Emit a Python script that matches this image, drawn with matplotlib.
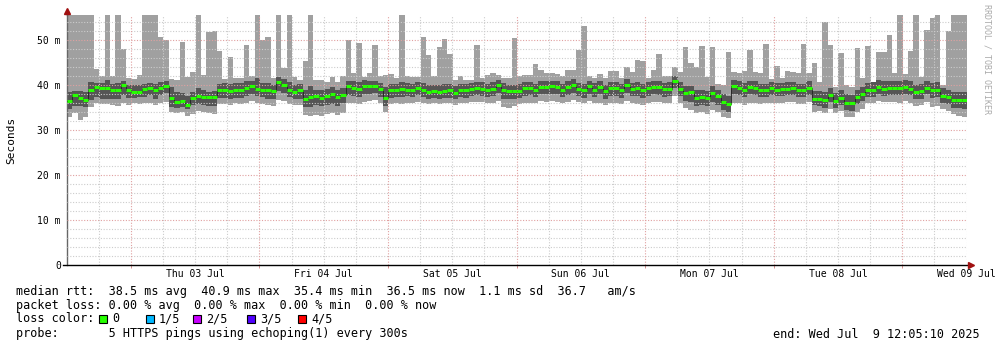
"""Weekly smokeping style latency graph."""
from datetime import datetime, timedelta

import matplotlib
matplotlib.use("Agg")
import matplotlib.pyplot as plt
import matplotlib.dates as mdates
from matplotlib.patches import Rectangle

START = datetime(2025, 7, 2, 12, 5, 10)
N_BINS = 168  # one bin per hour

# ---- data (ms) -------------------------------------------------------
median = [
    36.5, 37.8, 37.1, 36.7, 39.0, 39.6, 39.3, 39.3, 38.8, 38.9, 39.9, 38.9, 38.4, 38.4,
    39.1, 39.3, 39.0, 39.3, 39.8, 37.1, 36.3, 36.5, 35.5, 37.2, 37.6, 37.3, 37.3, 37.4,
    38.8, 38.8, 38.7, 38.8, 38.8, 39.3, 39.7, 39.1, 39.0, 38.8, 38.6, 40.6, 40.0, 39.0,
    38.5, 38.8, 37.0, 37.4, 37.5, 37.2, 37.6, 38.0, 37.3, 37.8, 39.8, 39.4, 39.2, 39.8,
    39.8, 39.8, 39.1, 37.1, 38.9, 38.9, 39.1, 39.0, 38.8, 39.4, 39.0, 38.5, 38.7, 38.4,
    38.7, 38.8, 38.2, 38.8, 38.8, 39.2, 39.3, 39.2, 38.9, 39.2, 39.9, 39.0, 38.7, 38.7,
    38.7, 39.3, 39.3, 38.9, 39.6, 39.6, 39.7, 39.6, 38.9, 39.6, 40.0, 39.1, 38.9, 39.7,
    39.0, 39.6, 38.6, 39.3, 39.3, 38.9, 40.0, 39.1, 39.3, 38.9, 39.3, 39.6, 39.5, 39.1,
    39.2, 41.0, 39.2, 38.2, 38.4, 37.1, 37.3, 37.2, 38.2, 37.6, 36.3, 35.8, 39.7, 39.3,
    38.9, 39.6, 39.3, 38.9, 38.9, 39.3, 39.0, 39.1, 39.2, 39.3, 38.9, 38.8, 39.4, 37.0,
    37.0, 36.7, 37.8, 36.5, 37.2, 36.1, 35.9, 37.3, 37.9, 38.9, 38.9, 39.6, 39.2, 39.3,
    39.3, 39.3, 39.6, 39.2, 38.4, 38.6, 39.4, 38.8, 39.0, 37.6, 37.3, 36.7, 36.7, 36.7,
]

# slowest ping per hour (values above the graph top get clipped)
smoke_hi = [
    62.0, 62.0, 62.0, 62.0, 62.0, 43.6, 42.0, 62.0, 42.0, 62.0, 48.0, 41.5, 41.4, 42.2,
    62.0, 62.0, 62.0, 50.7, 50.0, 41.3, 41.2, 49.6, 41.8, 42.9, 62.0, 42.2, 51.8, 52.0,
    47.6, 41.3, 46.3, 41.5, 41.5, 48.9, 42.0, 62.0, 49.9, 50.7, 41.5, 62.0, 43.7, 62.0,
    41.8, 41.1, 45.4, 62.0, 41.1, 41.2, 40.7, 41.8, 40.7, 42.1, 49.9, 42.7, 49.4, 41.8,
    42.6, 48.9, 42.0, 42.2, 42.4, 41.5, 62.0, 42.0, 41.8, 41.8, 50.6, 46.7, 42.0, 48.4,
    50.2, 46.9, 41.1, 42.0, 41.1, 41.1, 48.9, 41.5, 42.2, 42.6, 42.2, 41.5, 41.5, 50.4,
    42.0, 42.2, 42.2, 44.7, 43.3, 42.7, 42.7, 42.4, 42.0, 43.3, 43.3, 47.8, 53.1, 42.0,
    41.5, 42.4, 41.5, 43.1, 43.1, 41.5, 43.9, 42.9, 45.6, 45.3, 41.5, 43.3, 47.0, 42.1,
    42.0, 43.9, 42.9, 48.5, 45.0, 44.1, 48.7, 41.8, 48.5, 40.2, 40.0, 47.4, 43.0, 42.6,
    43.1, 47.8, 43.0, 42.6, 49.1, 41.3, 44.2, 41.5, 43.1, 42.8, 42.6, 49.1, 42.7, 45.0,
    40.7, 53.9, 48.9, 39.5, 47.2, 40.0, 39.6, 48.3, 41.5, 48.7, 40.4, 47.4, 47.4, 51.1,
    42.7, 62.0, 42.4, 47.6, 62.0, 41.8, 52.2, 54.8, 62.0, 40.0, 51.9, 62.0, 62.0, 62.0,
]

# inner pings (2nd and 4th)
dark_hi = [
    38.4, 38.6, 38.7, 38.4, 40.7, 40.5, 40.5, 41.2, 40.3, 40.4, 40.8, 40.0, 39.9, 40.1,
    40.3, 40.5, 40.2, 40.6, 40.9, 39.5, 38.5, 38.3, 37.5, 38.5, 39.3, 38.8, 38.5, 38.6,
    40.3, 40.4, 40.3, 40.5, 40.5, 40.8, 41.0, 41.5, 40.5, 40.4, 40.0, 41.7, 41.3, 40.6,
    39.9, 40.2, 38.8, 39.7, 38.9, 38.8, 39.2, 39.5, 39.0, 39.4, 41.0, 40.8, 40.6, 41.1,
    40.8, 40.9, 40.5, 39.5, 40.3, 40.2, 40.6, 40.4, 40.2, 40.7, 40.4, 40.0, 40.1, 39.9,
    40.2, 40.2, 39.7, 40.3, 40.2, 40.5, 40.7, 40.6, 40.3, 40.6, 41.1, 40.4, 40.0, 40.1,
    40.3, 40.7, 40.7, 40.2, 40.9, 40.9, 41.0, 40.9, 40.3, 40.9, 41.3, 40.5, 40.3, 41.0,
    40.4, 40.9, 40.0, 40.7, 40.6, 40.3, 41.4, 40.5, 40.7, 40.3, 40.7, 41.0, 40.8, 40.5,
    40.6, 42.0, 40.7, 39.7, 39.8, 38.8, 38.8, 38.6, 39.7, 39.0, 38.0, 37.6, 41.1, 40.8,
    40.4, 41.0, 40.8, 40.3, 40.3, 40.7, 40.4, 40.5, 40.6, 40.7, 40.3, 40.2, 40.8, 38.7,
    38.6, 38.4, 39.3, 38.2, 38.8, 37.9, 37.8, 39.0, 39.6, 40.5, 40.6, 41.1, 40.8, 40.9,
    41.0, 41.0, 41.2, 40.8, 40.0, 40.2, 41.0, 40.4, 40.6, 39.3, 39.0, 38.5, 38.5, 38.5,
]
dark_lo = [
    34.7, 35.3, 35.3, 35.2, 36.7, 37.4, 37.0, 37.0, 36.8, 36.8, 37.8, 37.2, 37.2, 37.4,
    37.4, 37.7, 36.9, 37.8, 38.2, 35.1, 35.0, 35.2, 34.6, 35.5, 35.8, 35.6, 35.4, 35.4,
    37.1, 37.2, 37.0, 37.2, 37.2, 37.6, 38.0, 37.5, 37.3, 37.0, 36.9, 38.6, 38.2, 37.3,
    36.9, 37.0, 35.2, 35.2, 35.5, 35.4, 35.6, 35.8, 35.3, 35.9, 37.8, 37.6, 37.4, 38.0,
    38.1, 38.3, 37.4, 35.3, 37.2, 37.3, 37.4, 37.5, 37.3, 37.7, 37.4, 37.0, 37.2, 37.0,
    37.2, 37.1, 36.8, 37.3, 37.2, 37.6, 37.8, 37.6, 37.3, 37.5, 38.2, 37.0, 36.8, 37.0,
    37.1, 37.6, 37.7, 37.3, 38.0, 37.9, 38.0, 37.9, 37.3, 37.8, 38.3, 37.5, 37.2, 38.0,
    37.3, 37.9, 37.0, 37.6, 37.6, 37.2, 38.3, 37.5, 37.6, 37.1, 37.6, 37.9, 37.8, 37.4,
    37.6, 39.3, 37.6, 36.5, 36.3, 35.3, 35.5, 35.3, 36.3, 35.6, 34.5, 34.0, 38.0, 37.7,
    37.3, 38.0, 37.7, 37.3, 37.4, 37.8, 37.5, 37.6, 37.7, 37.8, 37.4, 37.3, 37.8, 35.6,
    35.4, 35.0, 36.2, 35.0, 35.6, 34.5, 34.3, 35.7, 36.4, 37.4, 37.4, 38.0, 37.6, 37.8,
    37.8, 37.7, 38.0, 37.7, 36.8, 37.0, 37.9, 37.2, 37.4, 36.1, 35.8, 35.0, 34.8, 34.6,
]

# fastest ping per hour
smoke_lo = [
    32.9, 33.7, 32.2, 33.0, 35.1, 35.9, 35.8, 35.8, 35.5, 35.4, 36.0, 35.6, 35.9, 35.8,
    35.9, 36.0, 35.5, 36.1, 36.3, 34.0, 33.8, 34.0, 33.1, 33.6, 34.2, 34.0, 33.7, 33.6,
    35.8, 35.8, 35.6, 35.9, 35.7, 36.1, 36.4, 35.9, 35.8, 35.6, 35.4, 36.6, 36.5, 35.8,
    35.5, 35.6, 33.3, 33.1, 33.4, 33.2, 33.6, 33.7, 33.4, 33.8, 36.0, 35.9, 35.8, 36.2,
    36.4, 36.6, 36.0, 34.0, 35.8, 35.9, 35.7, 36.1, 36.0, 36.3, 36.1, 35.8, 35.9, 35.8,
    36.0, 35.9, 35.6, 36.0, 36.0, 36.2, 36.3, 36.2, 35.9, 36.1, 36.5, 35.1, 35.0, 35.4,
    35.7, 36.1, 36.1, 36.0, 36.4, 36.3, 36.5, 36.2, 36.0, 36.3, 36.6, 36.2, 35.9, 36.4,
    35.9, 35.9, 35.5, 36.0, 36.1, 35.8, 36.5, 36.0, 35.8, 35.6, 36.1, 36.3, 36.2, 36.0,
    36.0, 37.6, 36.0, 35.0, 34.4, 33.7, 33.9, 33.6, 34.5, 34.0, 32.9, 32.6, 36.1, 35.9,
    35.6, 36.1, 36.0, 35.7, 35.9, 36.1, 36.0, 36.1, 36.2, 36.3, 35.8, 35.8, 36.2, 34.0,
    34.2, 33.7, 34.7, 33.8, 34.2, 33.0, 32.8, 34.0, 34.7, 36.0, 36.0, 36.5, 36.2, 36.3,
    36.2, 36.1, 36.4, 36.1, 35.3, 35.6, 36.3, 35.2, 35.4, 34.6, 34.3, 33.5, 33.2, 32.8,
]

y_ticks = [0, 10, 20, 30, 40, 50]
y_tick_labels = ["0", "10 m", "20 m", "30 m", "40 m", "50 m"]
day_labels = ["Thu 03 Jul", "Fri 04 Jul", "Sat 05 Jul", "Sun 06 Jul",
              "Mon 07 Jul", "Tue 08 Jul", "Wed 09 Jul"]
loss_labels = ["0", "1/5", "2/5", "3/5", "4/5"]
loss_colors = ["#26ff00", "#00b8ff", "#c800ff", "#5000ff", "#ff0000"]

stat_lines = [
    "median rtt:  38.5 ms avg  40.9 ms max  35.4 ms min  36.5 ms now  1.1 ms sd  36.7   am/s",
    "packet loss: 0.00 % avg  0.00 % max  0.00 % min  0.00 % now",
    "loss color:",
    "probe:       5 HTTPS pings using echoping(1) every 300s",
]
end_text = "end: Wed Jul  9 12:05:10 2025"

MONO = "DejaVu Sans Mono"
W, H = 997, 347


def fx(px):
    return px / W


def fy(py):
    return 1 - py / H


def main():
    fig = plt.figure(figsize=(W / 100, H / 100), dpi=100)
    fig.patch.set_facecolor("white")
    ax = fig.add_axes([fx(67), fy(265), 900 / W, 250 / H])

    edges = [mdates.date2num(START + timedelta(hours=i)) for i in range(N_BINS + 1)]
    end = edges[-1]

    def ext(vals):
        return list(vals) + [vals[-1]]

    # smoke
    ax.fill_between(edges, ext(smoke_lo), ext(smoke_hi), step="post",
                    color="#a0a0a0", linewidth=0, zorder=1)
    ax.fill_between(edges, ext(dark_lo), ext(dark_hi), step="post",
                    color="#555555", linewidth=0, zorder=2)

    # grid on top of the smoke
    for v in range(2, 56, 2):
        major = v % 10 == 0
        ax.axhline(v, color="#e0a0a0" if major else "#cccccc", lw=0.8,
                   ls=(0, (1, 1.5)), zorder=3)
    t = datetime(2025, 7, 2, 18)
    while mdates.date2num(t) <= end:
        major = t.hour == 0
        ax.axvline(mdates.date2num(t), color="#e0a0a0" if major else "#cccccc",
                   lw=0.8, ls=(0, (1, 1.5)), zorder=3)
        t += timedelta(hours=6)

    # median line
    ax.step(edges, ext(median), where="post", color="#202020", lw=0.6, zorder=4)
    ax.hlines(median, edges[:-1], edges[1:], color="#26ff00", lw=2.2, zorder=5)

    ax.set_xlim(edges[0], end)
    ax.set_ylim(0, 55.56)

    for side in ("top", "right", "bottom"):
        ax.spines[side].set_visible(False)
    ax.spines["left"].set_color("#666666")
    ax.spines["left"].set_linewidth(1.0)

    # axes lines with the little red arrows
    ax.plot([-4 / 900, 1 + 3 / 900], [0, 0], transform=ax.transAxes,
            color="black", lw=1.0, clip_on=False, zorder=6)
    ax.plot([0, 0], [1, 1 + 4 / 250], transform=ax.transAxes,
            color="#666666", lw=1.0, clip_on=False, zorder=6)
    ax.plot([0], [1 + 4 / 250], transform=ax.transAxes, marker="^",
            color="#a01010", markersize=4, clip_on=False, zorder=7)
    ax.plot([1 + 4 / 900], [0], transform=ax.transAxes, marker=">",
            color="#a01010", markersize=4, clip_on=False, zorder=7)

    ax.set_yticks(y_ticks, y_tick_labels)
    ax.tick_params(axis="y", length=0, pad=4.5, labelsize=7)
    for lab in ax.get_yticklabels():
        lab.set_fontfamily(MONO)

    noons = [mdates.date2num(datetime(2025, 7, d, 12)) for d in range(3, 10)]
    mids = [mdates.date2num(datetime(2025, 7, d)) for d in range(3, 10)]
    ax.set_xticks(noons, day_labels)
    ax.set_xticks(mids, minor=True)
    ax.tick_params(axis="x", which="major", length=0, pad=3, labelsize=7)
    ax.tick_params(axis="x", which="minor", length=2, color="#d08080")
    for lab in ax.get_xticklabels():
        lab.set_fontfamily(MONO)

    fig.text(fx(11), fy(140), "Seconds", rotation=90, ha="center", va="center",
             family=MONO, fontsize=8)
    fig.text(fx(987), fy(4), "RRDTOOL / TOBI OETIKER", rotation=270,
             ha="center", va="top", family=MONO, fontsize=6, color="#aaaaaa")

    # legend block
    for line, py in zip(stat_lines, [291, 305, 319, 334]):
        fig.text(fx(16), fy(py), line, ha="left", va="center", family=MONO,
                 fontsize=8.5)
    fig.text(fx(980), fy(334), end_text, ha="right", va="center", family=MONO,
             fontsize=8.5)

    box_x = [99, 146, 193, 247, 298]
    for bx, lab, col in zip(box_x, loss_labels, loss_colors):
        fig.add_artist(Rectangle((fx(bx), fy(323)), 8 / W, 8 / H,
                                 transform=fig.transFigure, facecolor=col,
                                 edgecolor="black", linewidth=0.8))
        fig.text(fx(bx + 13), fy(319), lab, ha="left", va="center",
                 family=MONO, fontsize=8.5)

    fig.savefig("out.png", dpi=100, facecolor="white")


if __name__ == "__main__":
    main()
